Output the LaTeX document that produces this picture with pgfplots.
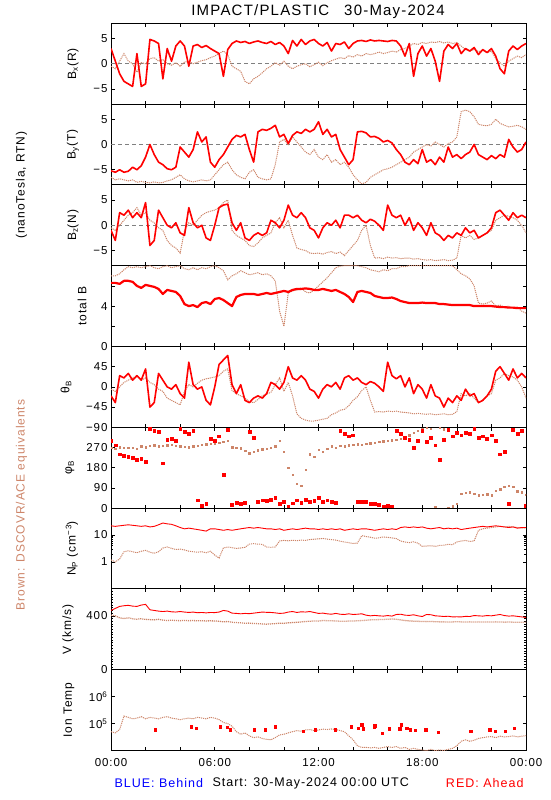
\documentclass[border=0pt]{standalone}
\usepackage{fontspec}
\setmainfont[LetterSpace=8]{Liberation Sans}
\usepackage{pgfplots}
\pgfplotsset{compat=1.18}
\usepackage{pgfplotstable}
\definecolor{brn}{RGB}{205,133,105}
\definecolor{dred}{RGB}{255,0,0}
\newcommand{\fs}[1]{\fontsize{#1}{#1}\selectfont}

% Ahead (red) spacecraft, 15-min samples
\pgfplotstableread{
t bx by bz bt th ph np v
0 3.0 -5.2 -1.0 6.3 -20 300 22 440
0.25 0.5 -5.5 -3.0 6.3 -35 280 21 455
0.5 -2.0 -5.0 2.5 6.2 25 240 22 470
0.75 -3.5 -5.5 2.0 6.5 20 235 23 475
1.0 -4.0 -5.3 3.0 6.5 30 230 24 478
1.25 -4.5 -4.5 1.5 6.4 15 225 23 472
1.5 2.0 -5.0 2.5 6.0 25 215 22 470
1.75 -4.5 -4.2 1.5 5.8 15 220 21 480
2.0 -4.0 -2.5 4.5 6.1 40 205 22 485
2.25 4.8 0.0 -4.0 6.0 -45 355 20 445
2.5 4.5 -2.0 -3.0 5.9 -35 345 21 440
2.75 4.0 -3.5 3.0 5.7 30 340 24 435
3.0 -3.0 -4.0 1.5 5.2 15 200 28 432
3.25 3.0 -4.8 0.0 5.6 0 305 26 435
3.5 0.5 -5.0 -0.5 5.5 -5 310 25 430
3.75 3.5 -4.5 0.5 5.4 5 300 22 428
4.0 4.5 -0.5 -1.5 5.0 -15 355 19 432
4.25 3.5 -1.5 -2.0 4.2 -25 340 17 428
4.5 -0.5 -2.5 3.5 4.0 55 330 18 425
4.75 3.5 -1.0 0.5 4.1 5 345 17 428
5.0 3.8 2.5 -0.5 3.9 -5 35 16 423
5.25 3.2 0.5 0.0 4.3 0 10 15 425
5.5 3.6 1.5 -2.5 4.4 -30 20 14 422
5.75 3.0 -3.5 -3.0 4.2 -40 310 17 425
6.0 2.5 -4.5 0.0 4.7 0 300 17 424
6.25 2.0 -3.0 3.5 4.8 50 320 16 428
6.5 -2.5 -2.0 4.0 4.6 60 150 15 440
6.75 2.8 -0.5 4.2 4.3 70 350 16 435
7.0 4.0 1.0 0.5 4.0 5 15 15 420
7.25 4.5 1.8 -1.0 4.9 -15 25 16 418
7.5 4.2 1.5 0.5 5.1 5 20 17 415
7.75 4.4 2.0 -2.5 5.2 -30 25 18 418
8.0 4.0 -1.0 -3.0 5.2 -35 340 19 416
8.25 4.3 -3.5 -2.0 5.2 -25 315 18 420
8.5 4.5 2.5 -1.5 5.1 -20 30 19 424
8.75 4.2 3.0 -2.0 5.2 -25 35 18 428
9.0 4.0 2.8 -1.5 5.3 -15 32 17 426
9.25 4.4 3.2 1.0 5.2 10 38 17 425
9.5 3.8 3.8 0.5 5.3 5 45 16 422
9.75 4.2 1.5 -0.5 5.4 -5 20 17 418
10.0 3.5 2.0 1.0 5.5 10 28 15 420
10.25 2.0 0.2 4.0 5.4 45 5 16 428
10.5 4.6 1.8 2.0 5.6 20 22 17 432
10.75 3.5 2.5 1.5 5.7 15 35 16 425
11.0 4.8 2.2 2.5 5.7 25 25 17 430
11.25 3.8 3.0 1.5 5.75 15 38 18 428
11.5 4.5 2.5 -0.5 5.7 -5 30 17 432
11.75 4.8 3.0 -1.0 5.6 -10 32 17 425
12.0 4.0 4.5 -2.5 5.6 -25 48 16 418
12.25 3.5 2.0 -0.5 5.7 -5 28 17 420
12.5 4.2 3.0 0.5 5.6 5 35 16 415
12.75 2.5 1.5 0.0 5.5 0 30 17 412
13.0 4.0 2.0 1.0 5.6 10 25 16 418
13.25 3.8 -1.0 -0.5 5.4 -5 345 17 412
13.5 4.3 -2.5 2.0 5.2 20 330 15 410
13.75 3.0 -4.0 2.0 4.9 25 320 16 415
14.0 4.0 -3.0 1.5 4.4 15 325 17 410
14.25 4.5 2.5 2.0 5.4 20 28 16 412
14.5 4.6 2.6 1.0 5.5 10 30 17 415
14.75 4.4 2.3 0.5 5.4 5 28 17 405
15.0 4.7 1.5 1.2 5.3 12 18 16 400
15.25 4.5 1.6 0.8 5.0 8 20 15 403
15.5 4.6 1.2 0.0 4.9 0 15 16 400
15.75 4.5 0.5 -1.0 4.8 -10 8 17 398
16.0 4.4 0.8 4.0 4.8 55 10 16 402
16.25 4.6 0.3 2.0 4.85 25 5 17 398
16.5 4.5 -1.0 1.5 4.7 18 345 16 410
16.75 3.5 -2.0 2.0 4.5 25 330 19 412
17.0 1.5 -3.5 0.0 4.4 0 315 20 405
17.25 4.0 -4.0 1.5 4.3 20 305 19 403
17.5 -2.5 -3.0 -1.0 4.3 -15 270 20 408
17.75 2.0 -3.8 0.5 4.3 5 300 19 400
18.0 3.5 -1.0 -0.5 4.35 -5 345 20 395
18.25 1.5 -3.5 -2.0 4.3 -25 295 18 410
18.5 3.0 -3.0 0.5 4.3 5 315 17 408
18.75 0.5 -4.0 -1.5 4.3 -20 280 18 400
19.0 -3.5 -2.5 -2.0 4.2 -25 215 19 398
19.25 2.5 -3.5 -3.0 4.2 -45 305 17 395
19.5 3.8 -0.5 -2.0 4.15 -25 350 18 397
19.75 3.0 -2.5 -2.5 4.1 -35 320 17 392
20.0 4.0 -2.0 -1.5 4.1 -20 335 18 393
20.25 2.0 -2.8 -2.0 4.1 -30 325 16 392
20.5 3.0 -2.0 -0.5 4.1 -5 335 17 396
20.75 2.5 -1.5 -1.5 4.1 -20 330 18 395
21.0 3.2 0.0 -1.0 4.0 -15 355 19 402
21.25 1.8 -2.0 -2.5 4.0 -35 315 20 400
21.5 2.8 -2.5 -2.0 4.0 -30 320 21 398
21.75 2.2 -3.0 -1.5 4.0 -20 310 20 402
22.0 3.0 -2.2 -0.5 4.0 -5 325 21 400
22.25 1.5 -2.8 2.5 3.95 35 300 22 405
22.5 -1.0 -2.0 3.0 3.9 45 240 21 410
22.75 -2.0 -2.5 2.0 3.9 30 250 20 402
23.0 2.5 1.0 1.0 3.85 15 20 19 398
23.25 3.5 -0.5 2.5 3.85 40 350 20 400
23.5 2.8 -1.5 1.5 3.8 20 330 18 396
23.75 3.5 -1.0 2.0 3.8 30 345 19 392
24.0 4.0 0.5 1.5 3.8 20 10 19 388
}\redtab

% DSCOVR/ACE equivalents (brown)
\pgfplotstableread{
t bx by bz bt th ph np v ti
0 -0.5 -6.5 -0.5 7.0 -5 270 1.2 405 5e4
0.25 -1.0 -7.0 -1.0 7.0 -10 265 1.0 400 4.5e4
0.5 0.5 -6.8 0.0 7.2 0 272 1.3 385 6e4
0.75 2.0 -7.0 1.0 7.6 10 268 2.4 380 1.9e5
1.0 0.5 -7.2 2.0 7.9 15 270 2.6 385 1.7e5
1.25 0.0 -7.0 2.5 7.8 20 268 2.4 378 1.5e5
1.5 -1.7 -7.5 3.5 7.9 25 265 2.2 375 1.6e5
1.75 0.2 -7.3 2.0 7.8 15 275 2.5 378 1.8e5
2.0 0.0 -7.5 2.5 7.9 20 272 2.7 374 1.5e5
2.25 1.0 -7.6 1.0 8.0 10 278 2.3 372 1.7e5
2.5 1.2 -7.4 0.5 7.8 5 280 2.1 370 1.6e5
2.75 0.5 -7.6 -0.5 7.7 -5 276 2.4 374 1.5e5
3.0 0.8 -7.5 -1.0 7.9 -10 278 3.3 368 1.7e5
3.25 0.0 -7.2 -3.0 8.0 -25 280 3.6 365 1.8e5
3.5 -0.3 -7.0 -4.0 7.8 -30 282 3.2 368 1.6e5
3.75 0.2 -6.5 -4.5 7.9 -35 278 2.9 365 1.5e5
4.0 -0.5 -6.0 -5.5 8.0 -40 276 3.0 364 1.4e5
4.25 0.3 -6.8 -1.0 7.7 -10 274 2.8 366 1.5e5
4.5 0.5 -7.2 0.5 7.6 5 272 2.5 364 1.6e5
4.75 0.0 -7.4 0.0 7.8 0 275 2.4 365 1.5e5
5.0 0.3 -7.2 1.0 7.6 8 278 2.3 363 1.7e5
5.25 0.6 -7.0 2.0 7.8 15 282 2.4 364 1.6e5
5.5 0.8 -7.2 2.5 7.7 18 284 2.2 362 1.5e5
5.75 1.2 -7.0 2.8 7.9 20 286 2.5 363 1.7e5
6.0 1.5 -6.0 3.0 8.0 22 290 1.8 362 1.6e5
6.25 2.0 -5.0 3.5 7.8 25 292 1.4 360 1.4e5
6.5 2.5 -4.0 4.5 7.5 35 296 3.3 355 1.1e5
6.75 1.8 -3.5 5.0 6.6 40 300 3.6 358 1.0e5
7.0 -0.5 -5.0 -1.0 7.0 -8 272 3.4 352 8e4
7.25 -1.0 -6.0 -2.0 7.2 -15 268 3.2 350 5e4
7.5 -1.5 -6.5 -2.5 7.5 -20 266 3.3 348 4e4
7.75 -3.5 -6.8 -3.0 7.3 -25 255 3.5 345 4.5e4
8.0 -4.0 -5.5 -4.0 7.1 -33 245 4.6 346 3.5e4
8.25 -3.0 -5.0 -4.2 7.2 -35 250 4.8 343 3e4
8.5 -2.5 -6.5 -3.5 7.3 -28 258 4.6 342 3.2e4
8.75 -1.8 -6.8 -2.5 7.1 -20 262 4.5 340 2.8e4
9.0 -1.0 -7.0 -2.0 7.2 -16 265 3.6 338 2.6e4
9.25 -0.5 -6.8 -1.5 7.0 -12 268 3.5 340 2.5e4
9.5 0.2 -4.0 0.5 6.5 5 275 3.6 342 3e4
9.75 -0.3 0.5 1.5 3.5 20 300 6.0 345 3.8e4
10.0 0.5 1.0 -0.5 2.0 -10 250 6.3 344 4e4
10.25 -0.5 0.0 1.0 5.3 10 180 6.1 348 4.5e4
10.5 -1.0 1.5 -2.0 5.5 -20 150 6.4 350 5e4
10.75 -0.5 0.5 -4.5 5.6 -60 110 6.2 352 5.5e4
11.0 -0.2 -0.5 -4.8 5.8 -70 100 6.5 355 5.2e4
11.25 0.0 -1.5 -5.0 5.4 -74 170 6.3 358 5.8e4
11.5 -0.6 -2.0 -5.5 5.3 -76 240 6.8 360 6e4
11.75 -0.2 -1.0 -5.6 5.6 -76 230 7.0 362 5.5e4
12.0 0.3 -2.5 -5.5 6.0 -74 260 7.2 362 5.8e4
12.25 -0.4 -3.0 -5.7 6.4 -72 250 7.5 365 6.2e4
12.5 0.2 -2.0 -5.4 6.8 -70 265 7.0 364 6e4
12.75 0.6 -3.5 -5.2 7.3 -62 275 6.8 363 6.3e4
13.0 0.9 -3.0 -5.6 7.8 -58 270 6.5 362 6e4
13.25 1.2 -4.0 -5.3 7.95 -52 278 5.9 360 5.5e4
13.5 1.0 -3.5 -6.0 8.0 -50 275 5.5 360 5e4
13.75 1.6 -4.5 -5.0 8.0 -42 280 5.2 361 3.5e4
14.0 1.3 -6.0 -4.0 8.0 -30 282 4.9 362 2.5e4
14.25 1.8 -7.0 -3.0 8.0 -22 285 5.0 363 1.5e4
14.5 1.5 -7.8 -1.0 7.9 -8 283 9.5 365 1.3e4
14.75 2.0 -7.5 0.0 7.8 0 288 8.8 367 1.3e4
15.0 1.8 -6.5 -4.0 7.6 -30 290 8.3 370 1.25e4
15.25 2.0 -6.0 -6.5 7.5 -56 292 7.6 371 1.3e4
15.5 2.3 -5.5 -6.4 7.4 -55 295 7.9 372 1.2e4
15.75 2.0 -5.0 -6.6 7.6 -56 298 8.5 373 1.3e4
16.0 2.2 -4.8 -6.3 7.5 -54 300 8.2 375 1.4e4
16.25 2.5 -4.5 -6.5 7.7 -55 302 7.8 376 1.3e4
16.5 2.3 -4.0 -6.4 7.7 -54 305 7.4 375 1.4e4
16.75 2.8 -3.5 -6.6 7.9 -56 310 6.0 370 1.2e4
17.0 3.0 -3.0 -6.5 7.9 -57 315 5.5 365 1.3e4
17.25 3.5 -2.5 -6.5 8.0 -58 325 5.2 362 1.1e4
17.5 4.0 -1.5 -6.7 8.0 -60 335 5.6 360 1.2e4
17.75 3.8 -1.0 -6.6 8.0 -59 345 5.0 359 1.1e4
18.0 4.2 -0.5 -6.8 8.0 -60 352 3.8 358 1.05e4
18.25 4.0 0.0 -6.9 8.0 -61 358 3.9 357 1.0e4
18.5 4.3 -0.3 -6.8 8.0 -60 355 4.0 358 1.1e4
18.75 4.2 0.5 -7.0 8.0 -62 5 3.8 356 1.0e4
19.0 4.4 0.0 -6.9 8.0 -61 358 4.1 355 1.05e4
19.25 4.1 -0.5 -6.8 8.0 -60 352 4.2 355 1.0e4
19.5 4.3 0.2 -7.0 8.0 -62 3 4.5 354 1.1e4
19.75 4.0 0.5 -6.9 8.0 -61 8 4.4 355 1.2e4
20.0 4.2 1.5 -6.5 7.6 -55 20 5.5 356 1.5e4
20.25 3.5 6.5 -2.0 7.2 -15 65 6.0 355 2.2e4
20.5 2.8 6.8 -2.5 7.0 -20 68 6.3 354 2.5e4
20.75 2.5 6.5 -2.0 6.7 -15 70 5.8 355 2.2e4
21.0 2.8 5.5 -2.8 6.0 -25 65 6.0 354 2.4e4
21.25 2.4 4.0 -2.5 4.3 -35 58 15 355 2.8e4
21.5 2.6 3.8 -2.0 4.2 -30 60 17 354 3e4
21.75 2.2 3.7 -1.5 4.3 -20 62 18 355 3.2e4
22.0 2.5 4.0 -1.0 4.5 -15 58 19 354 3.3e4
22.25 1.0 5.0 1.0 4.0 15 78 20 355 3e4
22.5 0.2 4.2 1.5 4.1 20 85 21 354 3.4e4
22.75 -0.5 3.8 2.0 3.9 30 95 20 353 3.2e4
23.0 0.5 3.5 1.8 4.0 25 100 21 354 3.3e4
23.25 1.0 3.6 1.5 3.8 22 95 20 353 3.5e4
23.5 1.5 3.8 1.0 3.9 15 75 19 352 3.2e4
23.75 1.2 3.5 0.0 3.5 0 70 18 352 3.4e4
24.0 1.8 3.0 -1.5 3.3 -25 60 18 352 3.6e4
}\brntab

% sparse Ahead ion temperatures
\pgfplotstableread{
t ti
2.54 5.9e4
4.66 7.7e4
4.95 6.8e4
6.30 7.7e4
6.70 7.5e4
6.90 5.9e4
8.30 5.9e4
8.90 5.9e4
9.50 7.7e4
11.1 5.2e4
11.8 5.9e4
12.95 5.9e4
13.9 7.7e4
14.3 6.8e4
14.5 9.1e4
14.6 6.4e4
15.2 7.7e4
15.25 8.3e4
15.7 4.5e4
16.1 6.4e4
16.7 6.4e4
16.8 9.1e4
17.1 6.8e4
17.3 5.9e4
17.6 5.5e4
18.2 5.9e4
18.9 4.7e4
20.8 5.2e4
21.9 5.9e4
22.2 5.2e4
22.8 5.2e4
23.3 6.8e4
}\redTtab

\pgfplotsset{
  panel/.style={
    scale only axis, width=415pt, height=80.8pt, anchor=north west,
    xmin=0, xmax=24, xtick={0,2,...,24}, xticklabels={},
    tick align=inside, major tick length=3.5pt, minor tick length=2pt,
    every tick/.style={black, line width=0.6pt},
    axis line style={line width=0.9pt},
    clip marker paths=true,
    yticklabel style={font=\fs{11.5}},
    xticklabel style={font=\fs{11.5}, yshift=-4pt},
    ylabel style={font=\fs{12}, anchor=center},
  },
  redline/.style={draw=dred, line width=1.6pt, no markers, line join=round},
  brnline/.style={draw=brn, line width=1.0pt, dash pattern=on 1.1pt off 0.9pt, no markers},
  zeroline/.style={draw=gray, line width=0.7pt, dash pattern=on 4pt off 3pt},
}

\begin{document}
\begin{tikzpicture}[x=1pt,y=1pt]
\useasboundingbox (0,0) rectangle (550,800);

% Bx
\begin{axis}[panel, at={(111pt,776.7pt)}, ymin=-8, ymax=8, ytick={-5,0,5}, yticklabels={−5,0,5},
  ylabel={B\textsubscript{x}(R)}, ylabel style={at={(axis description cs:-0.0916,0.5)}}]
\addplot[zeroline] coordinates {(0,0) (24,0)};
\addplot[brnline] table[x=t,y=bx]{\brntab};
\addplot[redline] table[x=t,y=bx]{\redtab};
\end{axis}

% By
\begin{axis}[panel, at={(111pt,695.9pt)}, ymin=-8, ymax=8, ytick={-5,0,5}, yticklabels={−5,0,5},
  ylabel={B\textsubscript{y}(T)}, ylabel style={at={(axis description cs:-0.0916,0.5)}}]
\addplot[zeroline] coordinates {(0,0) (24,0)};
\addplot[brnline] table[x=t,y=by]{\brntab};
\addplot[redline] table[x=t,y=by]{\redtab};
\end{axis}

% Bz
\begin{axis}[panel, at={(111pt,615.1pt)}, ymin=-8, ymax=8, ytick={-5,0,5}, yticklabels={−5,0,5},
  ylabel={B\textsubscript{z}(N)}, ylabel style={at={(axis description cs:-0.0916,0.5)}}]
\addplot[zeroline] coordinates {(0,0) (24,0)};
\addplot[brnline] table[x=t,y=bz]{\brntab};
\addplot[redline] table[x=t,y=bz]{\redtab};
\end{axis}

% total B
\begin{axis}[panel, at={(111pt,534.3pt)}, ymin=0, ymax=8, ytick={0,2,4,6}, yticklabels={0,,4,},
  ylabel={total B}, ylabel style={at={(axis description cs:-0.0699,0.5)}}]
\addplot[brnline] table[x=t,y=bt]{\brntab};
\addplot[redline, line width=2.2pt] table[x=t,y=bt]{\redtab};
\end{axis}

% theta
\begin{axis}[panel, at={(111pt,453.5pt)}, ymin=-90, ymax=90, ytick={-90,-45,0,45}, yticklabels={−90,−45,0,45},
  ylabel={θ\textsubscript{B}}, ylabel style={at={(axis description cs:-0.1084,0.5)}}]
\addplot[brnline] table[x=t,y=th]{\brntab};
\addplot[redline] table[x=t,y=th]{\redtab};
\end{axis}

% phi
\begin{axis}[panel, at={(111pt,372.7pt)}, ymin=0, ymax=360, ytick={0,90,180,270}, yticklabels={0,90,180,270},
  ylabel={φ\textsubscript{B}}, ylabel style={at={(axis description cs:-0.0988,0.5)}}]
\addplot[only marks, mark=square*, mark size=0.7pt, brn] table[x=t,y=ph]{\brntab};
\addplot[only marks, mark=square*, mark size=1.4pt, dred] table[x=t,y=ph]{\redtab};
\end{axis}

% Np
\begin{axis}[panel, at={(111pt,291.9pt)}, ymode=log, ymin=0.1, ymax=100, ytick={1,10}, yticklabels={1,10},
  ylabel={N\textsubscript{P} (cm\textsuperscript{−3})}, ylabel style={at={(axis description cs:-0.094,0.5)}}]
\addplot[brnline] table[x=t,y=np]{\brntab};
\addplot[draw=dred, line width=0.9pt, no markers] table[x=t,y=np]{\redtab};
\end{axis}

% V
\begin{axis}[panel, at={(111pt,211.1pt)}, ymin=0, ymax=600, ytick={0,400}, yticklabels={0,400},
  minor ytick={20,40,...,580},
  ylabel={V (km/s)}, ylabel style={at={(axis description cs:-0.1036,0.5)}}]
\addplot[brnline, line width=1.3pt] table[x=t,y=v]{\brntab};
\addplot[draw=dred, line width=0.9pt, no markers] table[x=t,y=v]{\redtab};
\end{axis}

% Ion temperature
\begin{axis}[panel, at={(111pt,130.3pt)}, ymode=log, ymin=1e4, ymax=1e7, ytick={1e5,1e6},
  yticklabels={10\textsuperscript{5},10\textsuperscript{6}}, minor tick length=0pt,
  xticklabels={00:00,,,06:00,,,12:00,,,18:00,,,00:00},
  ylabel={Ion Temp}, ylabel style={at={(axis description cs:-0.1012,0.5)}}]
\addplot[brnline] table[x=t,y=ti]{\brntab};
\addplot[only marks, mark=square*, mark size=1.1pt, dred] table[x=t,y=ti]{\redTtab};
\end{axis}

\node[font=\fs{15}] at (318,788) {IMPACT/PLASTIC\hspace{1em}30-May-2024};
\node[font=\fs{12}, rotate=90] at (21.5,615) {(nanoTesla, RTN)};
\node[font=\fs{12}, rotate=90, text=brn] at (21.5,295) {Brown: DSCOVR/ACE equivalents};
\node[font=\fs{12.5}, text=blue, anchor=west] at (111,17) {BLUE: Behind};
\node[font=\fs{12.5}, anchor=west] at (209,17) {Start: 30-May-2024 00:00 UTC};
\node[font=\fs{12.5}, text=dred, anchor=east] at (527,17) {RED: Ahead};
\end{tikzpicture}
\end{document}
